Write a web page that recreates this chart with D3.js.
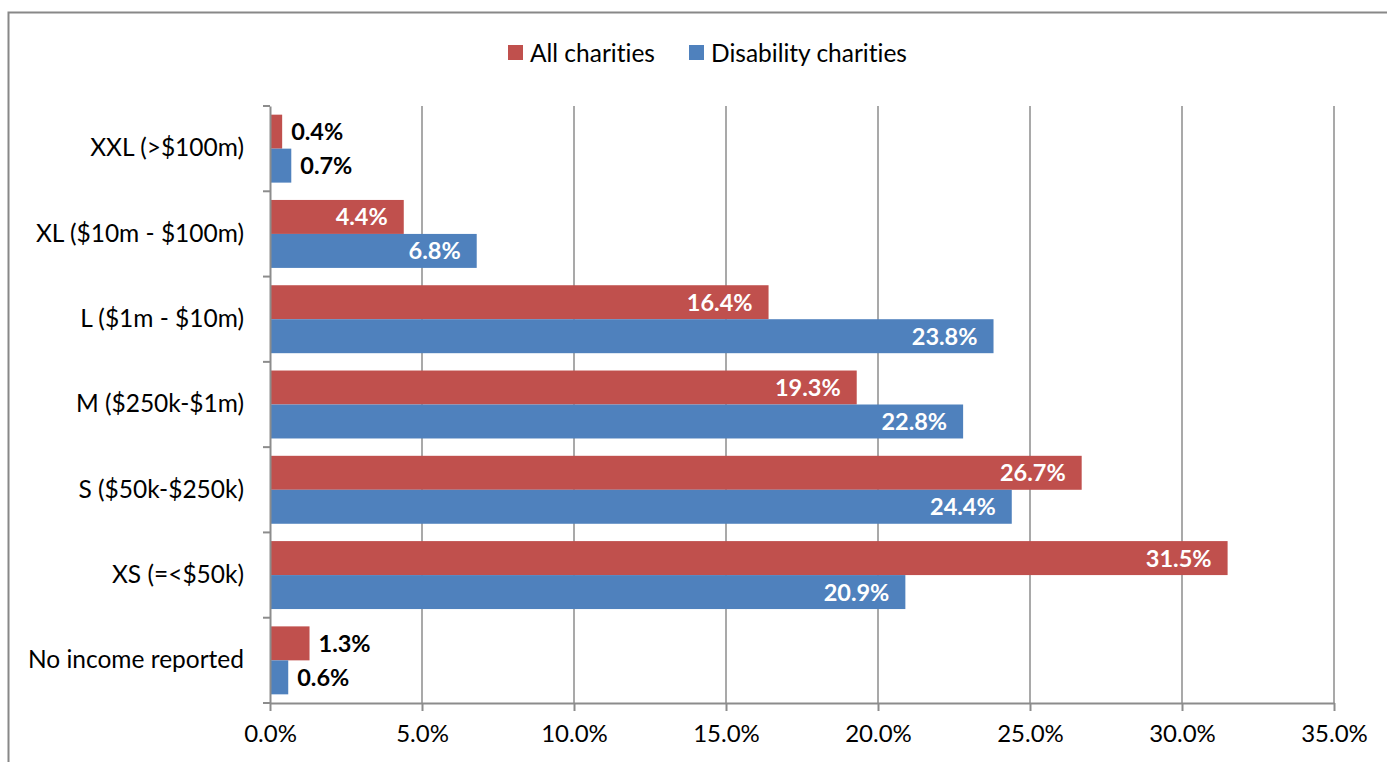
<!DOCTYPE html>
<html>
<head>
<meta charset="utf-8">
<script src="https://cdn.jsdelivr.net/npm/d3@7.9.0/dist/d3.min.js"></script>
<style>
  body { margin: 0; background: #fff; }
  svg { display: block; font-family: Lato, "Open Sans", sans-serif; }
  svg text { font-variant-ligatures: none; font-feature-settings: "liga" 0, "clig" 0, "dlig" 0; }
</style>
</head>
<body>
<div id="chart"></div>
<script>
// data
const categories = ['XXL (>$100m)', 'XL ($10m - $100m)', 'L ($1m - $10m)', 'M ($250k-$1m)',
  'S ($50k-$250k)', 'XS (=<$50k)', 'No income reported'];
const seriesNames = ['All charities', 'Disability charities'];
const allCharities = [0.4, 4.4, 16.4, 19.3, 26.7, 31.5, 1.3];
const disabilityCharities = [0.7, 6.8, 23.8, 22.8, 24.4, 20.9, 0.6];
const xTicks = [0, 5, 10, 15, 20, 25, 30, 35];
const colors = ['#C0504D', '#4F81BD'];

const W = 1387, H = 762;
const plotLeft = 270, plotRight = 1334, plotTop = 106, plotBottom = 703;

const rows = categories.map((c, i) => ({
  cat: c,
  values: [allCharities[i], disabilityCharities[i]]
}));

const svg = d3.select('#chart').append('svg')
  .attr('width', W)
  .attr('height', H);

// outer chart border (only top and left visible)
svg.append('rect')
  .attr('x', 8.5).attr('y', 12.5)
  .attr('width', 1500).attr('height', 900)
  .attr('fill', 'none')
  .attr('stroke', '#888')
  .attr('stroke-width', 2);

const x = d3.scaleLinear().domain([0, 35]).range([plotLeft, plotRight]);
const y = d3.scaleBand().domain(categories).range([plotTop, plotBottom]).padding(0);
const inner = d3.scaleBand().domain([0, 1])
  .range([0, y.bandwidth()]).paddingOuter(0.255).paddingInner(0);

// gridlines
svg.append('g')
  .selectAll('line')
  .data(xTicks.slice(1))
  .enter()
  .append('line')
  .attr('x1', d => x(d)).attr('x2', d => x(d))
  .attr('y1', plotTop).attr('y2', plotBottom)
  .attr('stroke', '#8c8c8c')
  .attr('stroke-width', 1.5);

// bars
const groups = svg.selectAll('g.cat')
  .data(rows)
  .enter()
  .append('g')
  .attr('class', 'cat')
  .attr('transform', d => `translate(0, ${y(d.cat)})`);

groups.selectAll('rect')
  .data(d => d.values.map((v, i) => ({ v, i })))
  .enter()
  .append('rect')
  .attr('x', x(0))
  .attr('y', d => inner(d.i))
  .attr('width', d => x(d.v) - x(0))
  .attr('height', inner.bandwidth())
  .attr('fill', d => colors[d.i]);

// data labels
groups.selectAll('text')
  .data(d => d.values.map((v, i) => ({ v, i })))
  .enter()
  .append('text')
  .attr('x', d => d.v > 3 ? x(d.v) - 16 : x(d.v) + 9)
  .attr('y', d => inner(d.i) + inner.bandwidth() / 2)
  .attr('dy', '0.36em')
  .attr('text-anchor', d => d.v > 3 ? 'end' : 'start')
  .attr('fill', d => d.v > 3 ? '#fff' : '#000')
  .attr('font-weight', 'bold')
  .attr('font-size', 23.5)
  .text(d => d.v.toFixed(1) + '%');

// y axis
const yAxis = svg.append('g')
  .attr('transform', `translate(${plotLeft}, 0)`)
  .call(d3.axisLeft(y).tickSize(0).tickPadding(26));
yAxis.select('.domain').attr('stroke', '#8c8c8c').attr('stroke-width', 2);
yAxis.selectAll('text').attr('font-size', 24.5).attr('fill', '#000').attr('font-family', 'Lato');
yAxis.append('g')
  .selectAll('line')
  .data(d3.range(categories.length + 1))
  .enter()
  .append('line')
  .attr('x1', -7).attr('x2', 0)
  .attr('y1', i => plotTop + i * y.step())
  .attr('y2', i => plotTop + i * y.step())
  .attr('stroke', '#8c8c8c')
  .attr('stroke-width', 2);

// x axis
const xAxis = svg.append('g')
  .attr('transform', `translate(0, ${plotBottom})`)
  .call(d3.axisBottom(x).tickValues(xTicks).tickSize(8).tickSizeOuter(0)
    .tickPadding(14).tickFormat(d => d.toFixed(1) + '%'));
xAxis.select('.domain').attr('stroke', '#8c8c8c').attr('stroke-width', 2);
xAxis.selectAll('.tick line').attr('stroke', '#8c8c8c').attr('stroke-width', 2);
xAxis.selectAll('text').attr('font-size', 24).attr('fill', '#000').attr('font-family', 'Lato');

// legend
const legendPos = [508, 689];
const legend = svg.append('g')
  .selectAll('g')
  .data(seriesNames)
  .enter()
  .append('g')
  .attr('transform', (d, i) => `translate(${legendPos[i]}, 45)`);
legend.append('rect')
  .attr('width', 15).attr('height', 15)
  .attr('fill', (d, i) => colors[i]);
legend.append('text')
  .attr('x', 22).attr('y', 8)
  .attr('dy', '0.36em')
  .attr('font-size', 24.5)
  .text(d => d);
</script>
</body>
</html>
